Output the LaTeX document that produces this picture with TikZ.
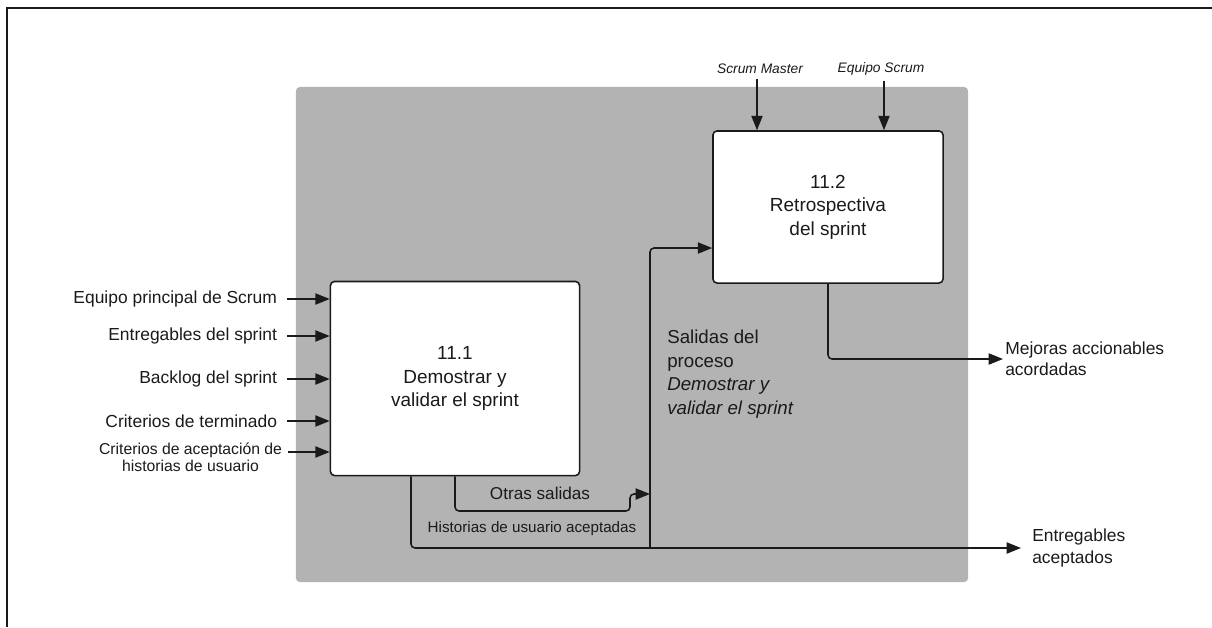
\documentclass[tikz,border=0pt]{standalone}
\usepackage{fontspec}
\setmainfont{Liberation Sans}
\usepackage{tikz}
\usetikzlibrary{arrows.meta,positioning,calc}
\usepackage{xcolor}
\definecolor{PanelGray}{HTML}{B3B3B3}
\definecolor{InkBlack}{HTML}{1A1A1A}
\tikzset{
  panelbox/.style={fill=PanelGray,rounded corners=1mm,minimum width=16.8cm,minimum height=12.375cm,inner sep=0pt},
  processbox/.style={draw=InkBlack,fill=white,line width=1.1pt,rounded corners=1mm,align=center,inner sep=0pt,text=InkBlack,font=\fontsize{13.5}{16.7}\selectfont},
  inlabel/.style={anchor=east,align=center,inner ysep=0pt,inner xsep=0pt,outer xsep=0.25cm,text=InkBlack,font=\fontsize{12.4}{15}\selectfont},
  outlabel/.style={anchor=west,align=left,inner sep=0pt,text=InkBlack,font=\fontsize{12.4}{15.3}\selectfont},
  rolelabel/.style={inner sep=0pt,text=InkBlack,font=\itshape\fontsize{9.8}{12}\selectfont},
  flowlabel/.style={inner sep=0pt,text=InkBlack,font=\fontsize{12.2}{15}\selectfont},
  flowarrow/.style={-{Triangle[length=3.6mm,width=2.8mm]},line width=1.1pt,draw=InkBlack,rounded corners=1mm},
  framerule/.style={line width=1.5pt,draw=InkBlack}
}
\begin{document}
\begin{tikzpicture}[x=0.025cm,y=-0.025cm]
\useasboundingbox (0,0) rectangle (1212,627);
\draw[framerule] (1212,8) -- (7,8) -- (7,627);
\node[panelbox] (panel) at (632,334.5) {};
\node[processbox,minimum width=6.225cm,minimum height=4.85cm] (demo) at (455,378.5) {11.1\\Demostrar y\\validar el sprint};
\node[processbox,minimum width=5.75cm,minimum height=3.8cm] (retro) at (828,207) {11.2\\Retrospectiva\\del sprint};
\foreach \ypos/\name/\txt in {299/eq/Equipo principal de Scrum,336/ent/Entregables del sprint,379/bkl/Backlog del sprint,421/crt/Criterios de terminado}{
  \node[inlabel] (in\name) at (287,\ypos) {\txt};
  \draw[flowarrow] (in\name.east) -- (in\name.east -| demo.west);
}
\node[inlabel,anchor=north east,outer xsep=0pt,font=\fontsize{11.2}{12.1}\selectfont] (inacc) at (282,443) {Criterios de aceptación de\\historias de usuario};
\coordinate[right=0.15cm of inacc.north east,yshift=-0.225cm] (accstart);
\draw[flowarrow] (accstart) -- (accstart -| demo.west);
\node[rolelabel] (sm) at (760,69) {Scrum Master};
\node[rolelabel] (eqs) at (881,69) {Equipo Scrum};
\draw[flowarrow,shorten <=0.12cm] ([xshift=-0.075cm]sm.south) -- ([xshift=-0.075cm]sm.south |- retro.north);
\draw[flowarrow,shorten <=0.12cm] ([xshift=0.075cm]eqs.south) -- ([xshift=0.075cm]eqs.south |- retro.north);
\node[outlabel] (mej) at (1005,359) {Mejoras accionables\\acordadas};
\draw[flowarrow] (retro.south) |- ([xshift=-0.05cm]mej.west);
\node[outlabel] (acc) at (1032,548) {Entregables\\aceptados};
\draw[flowarrow] ([xshift=-1.1cm]demo.south) |- ([xshift=-0.275cm]acc.west);
\coordinate (jog) at (630,511);
\coordinate (merge) at (650,494);
\coordinate (collbot) at (650,547);
\draw[flowarrow] (demo.south) |- (jog) |- (merge);
\draw[flowarrow] (collbot) |- ([yshift=-1.025cm]retro.west);
\node[flowlabel] (otras) at (540,493) {Otras salidas};
\node[flowlabel,font=\fontsize{10.8}{13}\selectfont] (hist) at (532,529) {Historias de usuario aceptadas};
\node[outlabel,font=\fontsize{13.3}{16.7}\selectfont] (salidas) at (667,374) {Salidas del\\proceso\\\textit{Demostrar y}\\\textit{validar el sprint}};
\end{tikzpicture}
\end{document}
